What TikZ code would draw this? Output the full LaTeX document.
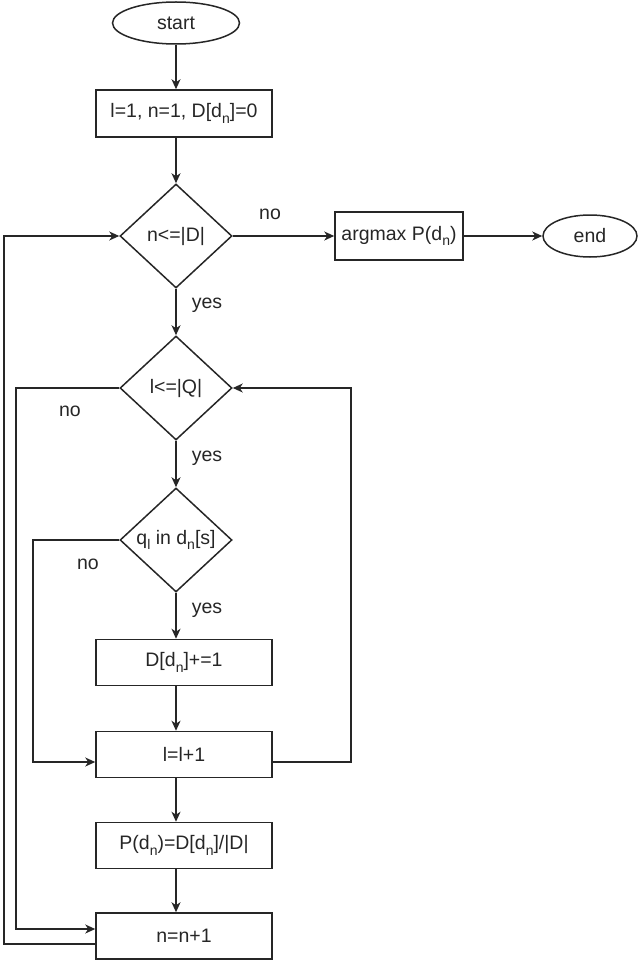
\documentclass[tikz,border=0pt]{standalone}
\usepackage{fontspec}
\setmainfont{Liberation Sans}
\usetikzlibrary{shapes.geometric,arrows.meta}
\newcommand{\sbs}[1]{\raisebox{-0.3em}{\fontsize{14}{14}\selectfont #1}}
\begin{document}
\begin{tikzpicture}[x=1pt,y=-1pt,
 every node/.style={font=\fontsize{19.5}{22}\selectfont, text=black!85},
 line/.style={line width=1.5pt, draw=black!85},
 arr/.style={line, -{Stealth[length=10pt,width=9pt,inset=3pt]}},
 proc/.style={rectangle, draw=black!85, line width=1.5pt, minimum width=176pt, minimum height=46pt, inner sep=0},
 term/.style={ellipse, draw=black!85, line width=1.5pt, inner sep=0},
 dec/.style={diamond, draw=black!85, line width=1.5pt, minimum width=112pt, minimum height=104pt, inner sep=0},
 lbl/.style={inner sep=0}]
\useasboundingbox (0,0) rectangle (640,960);

\node[term, minimum width=127pt, minimum height=42pt] (start) at (176,23) {start};
\node[proc, minimum height=47pt] (init) at (184,113.5) {l=1, n=1, D[d\sbs{n}]=0};
\node[dec] (d1) at (176,236) {\makebox[0pt]{n<=|D|}};
\node[proc, minimum width=128pt, minimum height=48pt] (argmax) at (399,236) {argmax P(d\sbs{n})};
\node[term, minimum width=94pt, minimum height=42pt] (end) at (590,236) {end};
\node[dec] (d2) at (176,388) {\makebox[0pt]{l<=|Q|}};
\node[dec] (d3) at (176,540) {\makebox[0pt]{q\sbs{l} in d\sbs{n}[s]}};
\node[proc] (inc) at (184,662.5) {D[d\sbs{n}]+=1};
\node[proc] (lpp) at (184,754.5) {l=l+1};
\node[proc] (pd) at (184,845.5) {P(d\sbs{n})=D[d\sbs{n}]/|D|};
\node[proc] (npp) at (184,936) {n=n+1};

\draw[arr] (start.south) -- (start.south |- init.north);
\draw[arr] (d1.north |- init.south) -- (d1.north);
\draw[arr] (d1.east) -- (argmax.west);
\draw[arr] (argmax.east) -- (end.west);
\draw[arr] (d1.south) -- (d2.north);
\draw[arr] (d2.south) -- (d3.north);
\draw[arr] (d3.south) -- (d3.south |- inc.north);
\draw[arr] (d3.south |- inc.south) -- (d3.south |- lpp.north);
\draw[arr] (d3.south |- lpp.south) -- (d3.south |- pd.north);
\draw[arr] (d3.south |- pd.south) -- (d3.south |- npp.north);

\coordinate (oa) at (4,944);
\coordinate (ob) at (4,236);
\draw[arr] (npp.west |- oa) -- (oa) -- (ob) -- (d1.west);
\coordinate (ia) at (16,388);
\coordinate (ib) at (16,929);
\draw[arr] (d2.west) -- (ia) -- (ib) -- (npp.west |- ib);
\coordinate (ca) at (33,540);
\coordinate (cb) at (33,762);
\draw[arr] (d3.west) -- (ca) -- (cb) -- (lpp.west |- cb);
\coordinate (ra) at (351,762);
\coordinate (rb) at (351,388);
\draw[arr] (lpp.east |- ra) -- (ra) -- (rb) -- (d2.east);

\node[lbl] (no1) at (270,214) {no};
\node[lbl] (no2) at (70,411) {no};
\node[lbl] (no3) at (88,564) {no};
\node[lbl] (y1) at (207,305) {yes};
\node[lbl] (y2) at (207,458) {yes};
\node[lbl] (y3) at (207,610) {yes};
\end{tikzpicture}
\end{document}
